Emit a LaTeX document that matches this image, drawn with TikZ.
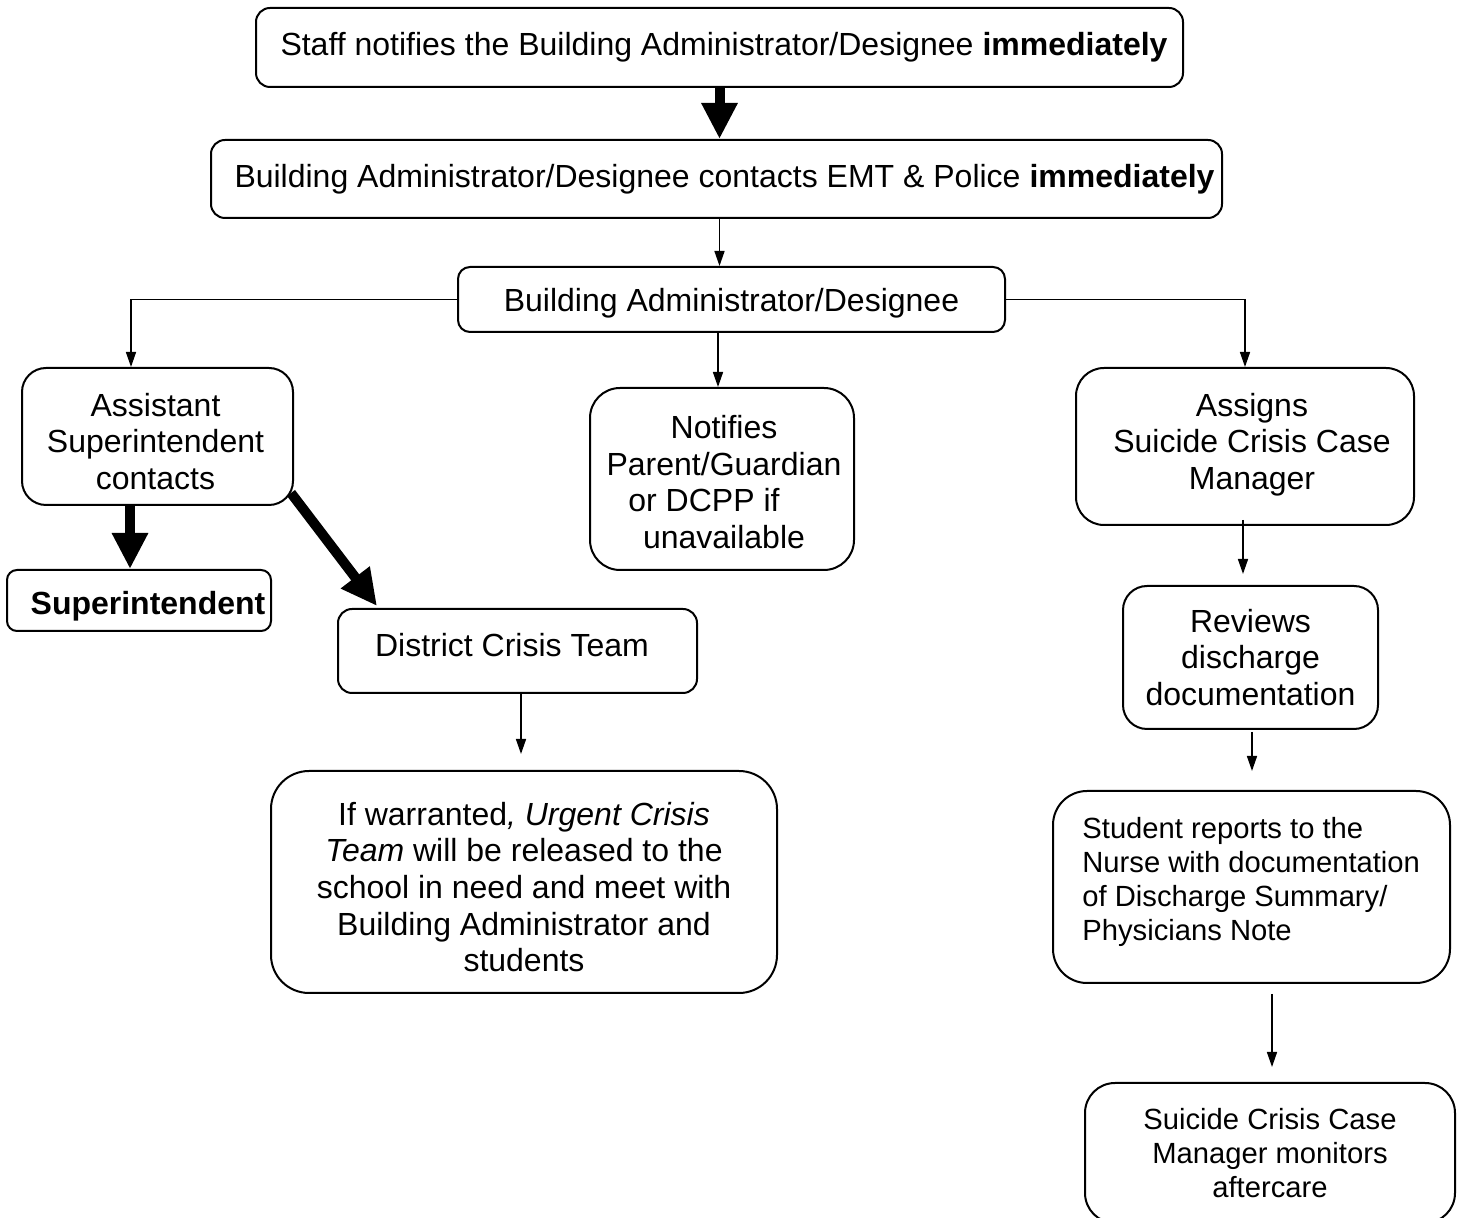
\documentclass[tikz,border=0pt]{standalone}
\usepackage{fontspec}
\setmainfont{Liberation Sans}
\usetikzlibrary{arrows.meta,calc}
\begin{document}
\begin{tikzpicture}[x=0.5pt,y=-0.5pt,
  box/.style={draw, line width=1pt, rounded corners=#1, inner sep=0pt, align=center,
    font=\fontsize{16pt}{18.3pt}\selectfont},
  box/.default=8pt,
  txt/.style={inner sep=0pt, align=center, font=\fontsize{16pt}{18.3pt}\selectfont},
  small/.style={font=\fontsize{14.6pt}{17pt}\selectfont},
  arr/.style={line width=0.75pt, -{Triangle[length=7.5pt,width=5pt]}},
  bigarr/.style={line width=5pt, -{Triangle[length=18pt,width=17pt]}}]
\path[use as bounding box] (0,0) rectangle (1463,1218);
\clip (0,0) rectangle (1463,1218);

\node[box=7pt, minimum width=463.5pt, minimum height=39.5pt] (top) at (719.5,47.5)
  {\hspace*{4.5pt}Staff notifies the Building Administrator/Designee \textbf{immediately}};
\node[box=7pt, minimum width=505.5pt, minimum height=39pt] (emt) at (716.5,179)
  {\hspace*{8pt}Building Administrator/Designee contacts EMT \& Police \textbf{immediately}};
\node[box=6pt, minimum width=273.5pt, minimum height=32.5pt] (bad) at (731.5,299.5)
  {\raisebox{-2pt}[\height][\depth]{Building Administrator/Designee}};
\node[box=12pt, minimum width=135.5pt, minimum height=68.5pt] (asst) at (157.5,436.5) {};
\node[txt] (asstT) at ($(asst)+(-2,5)$) {Assistant\\Superintendent\\contacts};
\node[box=15pt, minimum width=132pt, minimum height=91pt] (notif) at (722,479) {};
\node[txt] (notifT) at ($(notif)+(2,3)$)
  {Notifies\\Parent/Guardian\\or DCPP if\rule{20pt}{0pt}\\unavailable};
\node[box=14pt, minimum width=169pt, minimum height=78.5pt] (assigns) at (1245,446.5) {};
\node[txt] (assignsT) at ($(assigns)+(7,-2)$) {Assigns\\Suicide Crisis Case\\Manager};
\node[box=5pt, minimum width=132pt, minimum height=30.5pt] (super) at (139,600.5)
  {\raisebox{-3pt}[\height][\depth]{\hspace*{9pt}\textbf{Superintendent}}};
\node[box=7pt, minimum width=179.5pt, minimum height=42pt] (dct) at (517.5,651) {};
\node[txt] (dctT) at ($(dct)+(-5.5,-6)$) {District Crisis Team};
\node[box=19pt, minimum width=253pt, minimum height=111pt] (urgent) at (524,882) {};
\node[txt] (urgentT) at ($(urgent)+(0,5)$)
  {If warranted\textit{, Urgent Crisis}\\\textit{Team} will be released to the\\school in need and meet with\\Building Administrator and\\students};
\node[box=12pt, minimum width=127.5pt, minimum height=71.5pt] (reviews) at (1250.5,657.5)
  {Reviews\\discharge\\documentation};
\node[box=17pt, minimum width=198.5pt, minimum height=96pt] (student) at (1251.5,887) {};
\node[txt, small, align=left, anchor=west] (studentT)
  at ($(student.west)+(30,-5)$)
  {Student reports to the\\Nurse with documentation\\of Discharge Summary/\\Physicians Note};
\node[box=15pt, small, minimum width=185pt, minimum height=70pt] (monitor) at (1270,1153)
  {Suicide Crisis Case\\Manager monitors\\aftercare};

\coordinate (asstL) at ($(asst.north)+(-26.5,0)$);
\coordinate (notifA) at ($(notif.north)+(-4,0)$);
\coordinate (asstB) at ($(asst.south)+(-27.5,0)$);
\coordinate (asstD) at ($(asst.south east)+(-3,-13)$);
\coordinate (dctD) at ($(dct.north west)+(40,-2)$);
\coordinate (dctB) at ($(dct.south)+(3.5,0)$);
\coordinate (assB) at ($(assigns.south)+(-2,-6)$);
\coordinate (revB) at ($(reviews.south)+(1.5,2)$);
\coordinate (stuB) at ($(student.south)+(20.5,10)$);

\draw[bigarr] (top.south) -- (top.south |- emt.north);
\draw[arr] (emt.south -| top.south) -- (top.south |- bad.north);
\draw[arr] (bad.west) -| (asstL);
\draw[arr] (bad.east) -| (assigns.north);
\draw[arr] (notifA |- bad.south) -- (notifA);
\draw[bigarr] (asstB) -- (asstB |- super.north);
\draw[bigarr] (asstD) -- (dctD);
\draw[arr, shorten >=8pt] (dctB) -- (dctB |- urgent.north);
\draw[arr, shorten >=5.5pt] (assB) -- (assB |- reviews.north);
\draw[arr, shorten >=9.5pt] (revB) -- (revB |- student.north);
\draw[arr, shorten >=7.5pt] (stuB) -- (stuB |- monitor.north);
\end{tikzpicture}
\end{document}
